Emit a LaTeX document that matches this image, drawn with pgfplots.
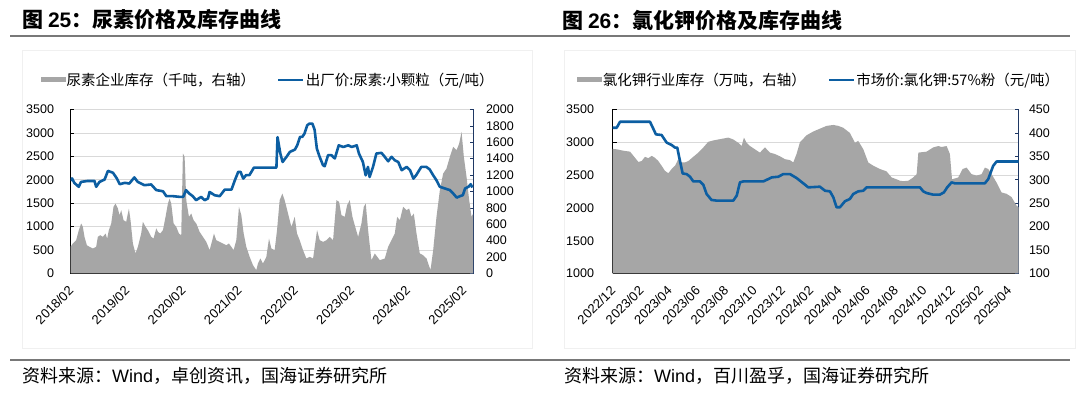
\documentclass[border=0pt]{standalone}
\usepackage{pgfplots}
\usepackage{pgfplotstable}
\pgfplotsset{compat=1.18}
\usepackage{fontspec}
\setmainfont{Liberation Sans}
\newfontfamily\cjk{Noto Sans CJK SC}
\definecolor{pblue}{RGB}{12,94,162}
\definecolor{agray}{RGB}{166,166,166}
\definecolor{navy}{RGB}{31,56,100}
\definecolor{gridc}{RGB}{217,217,217}
\definecolor{rulec}{RGB}{120,120,120}
\newcommand{\tickfont}{\fontsize{12.5}{13}\selectfont}
\newcommand{\xtickfont}{\fontsize{13}{14}\selectfont}
\newcommand{\legfont}{\cjk\fontsize{14.5}{15}\selectfont}

\pgfplotstableread{
x y
2018.083 1980
2018.11 2030
2018.15 1935
2018.23 1850
2018.27 1955
2018.39 1975
2018.51 1975
2018.54 1850
2018.60 1955
2018.69 2005
2018.75 2190
2018.84 2150
2018.91 2025
2018.96 1905
2019.05 1935
2019.13 1920
2019.22 2050
2019.28 1955
2019.40 1885
2019.52 1900
2019.61 1780
2019.73 1755
2019.79 1650
2019.91 1650
2020.03 1635
2020.09 1635
2020.14 1780
2020.20 1705
2020.26 1650
2020.32 1565
2020.41 1635
2020.47 1565
2020.53 1600
2020.56 1740
2020.65 1670
2020.74 1650
2020.83 1790
2020.95 1790
2021.01 1990
2021.07 2170
2021.11 2170
2021.16 2025
2021.21 2100
2021.27 2100
2021.35 2260
2021.75 2260
2021.77 2910
2021.82 2560
2021.86 2380
2021.93 2490
2021.99 2595
2022.08 2645
2022.12 2735
2022.17 2915
2022.21 2915
2022.25 2985
2022.30 3165
2022.34 3200
2022.39 3200
2022.43 3070
2022.47 2665
2022.52 2490
2022.58 2310
2022.61 2290
2022.67 2525
2022.73 2525
2022.79 2455
2022.86 2735
2022.94 2700
2023.03 2735
2023.09 2700
2023.18 2735
2023.22 2560
2023.29 2380
2023.34 2095
2023.38 2275
2023.41 2060
2023.47 2275
2023.53 2560
2023.62 2575
2023.68 2490
2023.74 2395
2023.80 2490
2023.86 2415
2023.92 2380
2023.98 2205
2024.07 2275
2024.13 2205
2024.19 2025
2024.24 2100
2024.33 2275
2024.42 2275
2024.48 2220
2024.54 2100
2024.60 1990
2024.66 1850
2024.75 1815
2024.84 1780
2024.90 1705
2024.96 1620
2025.02 1650
2025.07 1670
2025.11 1815
2025.17 1850
2025.21 1905
2025.24 1835
}\ureaprice

\pgfplotstableread{
x y
2018.083 325
2018.124 366
2018.184 406
2018.231 528
2018.273 609
2018.303 569
2018.332 447
2018.374 345
2018.421 325
2018.481 305
2018.540 325
2018.570 447
2018.612 467
2018.659 447
2018.707 487
2018.736 426
2018.766 528
2018.808 609
2018.849 813
2018.885 853
2018.927 792
2018.956 711
2018.986 772
2019.028 650
2019.075 630
2019.123 792
2019.152 650
2019.194 366
2019.241 244
2019.283 325
2019.342 487
2019.372 630
2019.420 569
2019.461 528
2019.521 447
2019.562 426
2019.610 549
2019.640 508
2019.681 487
2019.729 528
2019.776 691
2019.818 853
2019.848 914
2019.877 853
2019.919 609
2019.966 569
2020.014 487
2020.055 467
2020.085 1463
2020.115 1422
2020.145 894
2020.192 691
2020.234 731
2020.275 650
2020.323 609
2020.382 508
2020.442 447
2020.501 386
2020.561 285
2020.608 406
2020.638 487
2020.679 406
2020.739 386
2020.798 366
2020.858 345
2020.905 366
2020.947 325
2020.988 285
2021.036 406
2021.083 813
2021.125 711
2021.167 487
2021.214 325
2021.274 203
2021.333 102
2021.392 41
2021.422 122
2021.464 183
2021.511 122
2021.571 203
2021.618 426
2021.660 305
2021.719 285
2021.761 528
2021.808 894
2021.856 975
2021.897 894
2021.957 731
2022.017 569
2022.076 691
2022.117 487
2022.165 406
2022.224 285
2022.284 183
2022.343 203
2022.403 183
2022.474 528
2022.522 406
2022.581 386
2022.640 406
2022.700 447
2022.759 406
2022.819 894
2022.866 874
2022.908 711
2022.967 691
2023.009 833
2023.056 894
2023.104 691
2023.145 589
2023.205 447
2023.264 609
2023.306 813
2023.341 853
2023.383 528
2023.442 162
2023.502 244
2023.591 162
2023.680 183
2023.740 325
2023.799 406
2023.858 487
2023.900 691
2023.948 650
2024.007 813
2024.066 772
2024.114 792
2024.155 691
2024.197 731
2024.245 487
2024.304 244
2024.363 223
2024.423 183
2024.494 41
2024.542 285
2024.601 691
2024.661 1016
2024.720 1219
2024.779 1280
2024.839 1422
2024.898 1544
2024.958 1503
2025.005 1585
2025.047 1727
2025.088 1422
2025.136 1178
2025.183 894
2025.225 691
2025.255 731
}\ureainv

\pgfplotstableread{
x y
0 3222
0.3 3222
0.53 3313
2.65 3313
2.85 3222
3.07 3121
3.47 3111
3.83 2995
4.18 2959
4.42 2919
4.58 2919
4.72 2767
4.96 2525
5.24 2515
5.48 2475
5.71 2404
6.18 2404
6.42 2353
6.65 2212
7.0 2121
7.36 2111
8.54 2111
8.78 2187
9.01 2389
9.25 2404
10.66 2404
11.01 2439
11.25 2465
11.72 2475
12.07 2515
12.55 2515
13.02 2454
13.49 2374
13.84 2313
14.66 2323
15.02 2262
15.37 2252
15.61 2161
15.84 2010
16.08 2010
16.43 2101
16.78 2136
17.02 2212
17.37 2252
17.73 2262
17.96 2313
21.73 2313
21.97 2252
22.2 2227
22.67 2202
23.14 2202
23.43 2237
23.66 2313
23.97 2389
24.2 2374
26.32 2374
26.56 2439
26.91 2641
27.15 2707
28.7 2707
}\kclprice

\pgfplotstableread{
x y
0 366
0.3 365
0.77 362
1.24 360
1.59 347
1.83 338
2.06 340
2.30 349
2.53 346
2.77 351
3.0 347
3.24 340
3.47 330
3.71 319
3.95 314
4.18 323
4.42 330
4.65 344
4.89 337
5.12 337
5.36 340
5.71 349
6.07 358
6.42 369
6.77 381
7.13 384
7.48 386
7.83 388
8.19 390
8.54 386
8.89 379
9.13 372
9.29 390
9.48 379
9.72 372
10.07 365
10.42 358
10.78 369
11.13 358
11.48 355
11.84 350
12.19 344
12.54 342
12.78 337
13.01 355
13.25 380
13.72 395
14.19 403
14.66 409
15.13 415
15.61 417
15.96 415
16.31 411
16.78 400
17.14 379
17.37 383
17.73 365
18.08 337
18.43 330
18.90 323
19.37 318
19.73 305
20.08 301
20.32 298
20.55 297
20.91 298
21.26 305
21.50 312
21.62 358
22.20 360
22.67 369
23.03 372
23.26 370
23.62 372
23.85 355
24.00 301
24.44 305
24.56 312
24.75 323
25.03 326
25.38 312
25.74 309
26.09 312
26.32 326
26.56 323
26.80 312
27.15 294
27.50 273
27.86 270
28.21 263
28.56 245
28.7 241
}\kclinv

\pgfplotsset{
  common/.style={scale only axis, height=164pt,
    tick align=inside, major tick length=4pt,
    /pgf/number format/assume math mode=true,
    /pgf/number format/1000 sep={},
    scaled y ticks=false,
    xticklabel style={font=\xtickfont, xshift=-3pt, yshift=-10pt, rotate=45, anchor=north east, inner sep=1pt},
    yticklabel style={font=\tickfont},
  },
  leftax/.style={common, axis y line*=left, axis x line*=bottom,
    axis line style={black, line width=0.8pt},
    tick style={black, line width=0.7pt},
    ymajorgrids, grid style={gridc, line width=0.8pt},
    yticklabel style={xshift=-13pt},
  },
  rightax/.style={common, axis y line*=right, axis x line=none,
    axis line style={navy, line width=0.8pt},
    tick style={navy, line width=0.7pt},
    yticklabel style={xshift=9pt},
    legend columns=2,
    legend style={draw=none, fill=none, inner sep=0pt, outer sep=0pt,
      font=\legfont, nodes={inner sep=1pt},
      /tikz/every even column/.append style={column sep=21pt}},
  },
  hideax/.style={common, hide axis},
}

\begin{document}
\begin{tikzpicture}[x=1pt,y=1pt]
\useasboundingbox (0,0) rectangle (1080,396);
\fill[white] (0,0) rectangle (1080,396);
% chart frames
\draw[black!6, line width=0.8pt] (22.5,346) rectangle (532,48);
\draw[black!6, line width=0.8pt] (564,346) rectangle (1075,48);
% titles
\node[anchor=west, inner sep=0pt] at (22,376) {\cjk\fontsize{21}{23}\selectfont\bfseries 图 {\rmfamily 25}：尿素价格及库存曲线};
\node[anchor=west, inner sep=0pt] at (562,376) {\cjk\fontsize{21}{23}\selectfont\bfseries 图 {\rmfamily 26}：氯化钾价格及库存曲线};
\draw[rulec, line width=1.6pt] (10,360) -- (1070,360);
\draw[rulec, line width=1.2pt] (10,36) -- (1070,36);
\node[anchor=west, inner sep=0pt] at (22,20) {\cjk\fontsize{18}{20}\selectfont 资料来源：{\rmfamily Wind}，卓创资讯，国海证券研究所};
\node[anchor=west, inner sep=0pt] at (564,20) {\cjk\fontsize{18}{20}\selectfont 资料来源：{\rmfamily Wind}，百川盈孚，国海证券研究所};

% ---------------- left panel ----------------
\begin{axis}[leftax, at={(70.5pt,122.5pt)}, anchor=south west, width=403pt,
  xmin=2018.083, xmax=2025.26, ymin=0, ymax=3500, ytick={0,500,...,3500},
  xtick={2018.083,2019.083,2020.083,2021.083,2022.083,2023.083,2024.083,2025.083},
  xticklabels={2018/02,2019/02,2020/02,2021/02,2022/02,2023/02,2024/02,2025/02}]
\addplot[draw=none] coordinates {(2018.083,0)};
\end{axis}
\begin{axis}[rightax, at={(70.5pt,122.5pt)}, anchor=south west, width=403pt,
  xmin=2018.083, xmax=2025.26, ymin=0, ymax=2000, ytick={0,200,...,2000},
  legend style={at={(-0.074,1.18)}, anchor=west}]
\addplot[fill=agray, draw=none, legend image code/.code={\fill[agray] (0pt,-2.5pt) rectangle (25pt,2.5pt);}] table[x=x,y=y] {\ureainv} \closedcycle;
\addlegendentry{尿素企业库存（千吨，右轴）}
\addlegendimage{legend image code/.code={\draw[pblue, line width=2.6pt] (0pt,0pt) -- (25pt,0pt);}}
\addlegendentry{出厂价:尿素:小颗粒（元/吨）}
\end{axis}
\begin{axis}[hideax, at={(70.5pt,122.5pt)}, anchor=south west, width=403pt,
  xmin=2018.083, xmax=2025.26, ymin=0, ymax=3500]
\addplot[pblue, line width=2.6pt, line join=round] table[x=x,y=y] {\ureaprice};
\end{axis}

% ---------------- right panel ----------------
\begin{axis}[leftax, at={(612.5pt,122.5pt)}, anchor=south west, width=406pt,
  xmin=0, xmax=28.7, ymin=1000, ymax=3500, ytick={1000,1500,...,3500},
  yticklabel style={xshift=-2pt},
  xtick={0,2,...,28},
  xticklabels={2022/12,2023/02,2023/04,2023/06,2023/08,2023/10,2023/12,2024/02,2024/04,2024/06,2024/08,2024/10,2024/12,2025/02,2025/04}]
\addplot[draw=none] coordinates {(0,1000)};
\end{axis}
\begin{axis}[rightax, at={(612.5pt,122.5pt)}, anchor=south west, width=406pt,
  xmin=0, xmax=28.7, ymin=100, ymax=450, ytick={100,150,...,450},
  yticklabel style={xshift=-2pt},
  legend style={at={(-0.088,1.18)}, anchor=west}]
\addplot[fill=agray, draw=none, legend image code/.code={\fill[agray] (0pt,-2.5pt) rectangle (25pt,2.5pt);}] table[x=x,y=y] {\kclinv} \closedcycle;
\addlegendentry{氯化钾行业库存（万吨，右轴）}
\addlegendimage{legend image code/.code={\draw[pblue, line width=2.6pt] (0pt,0pt) -- (25pt,0pt);}}
\addlegendentry{市场价:氯化钾:57\%粉（元/吨）}
\end{axis}
\begin{axis}[hideax, at={(612.5pt,122.5pt)}, anchor=south west, width=406pt,
  xmin=0, xmax=28.7, ymin=1000, ymax=3500]
\addplot[pblue, line width=2.6pt, line join=round] table[x=x,y=y] {\kclprice};
\end{axis}
\end{tikzpicture}
\end{document}
